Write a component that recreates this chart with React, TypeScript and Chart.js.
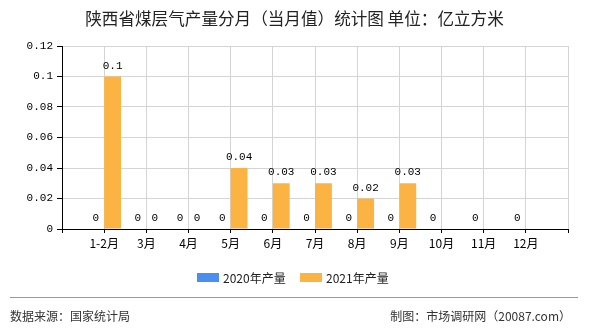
import React, { useEffect, useRef } from 'react';
import { Chart, registerables } from 'chart.js';

Chart.register(...registerables);

const TITLE = '陕西省煤层气产量分月（当月值）统计图 单位：亿立方米';
const MONTHS = ['1-2月', '3月', '4月', '5月', '6月', '7月', '8月', '9月', '10月', '11月', '12月'];
const VALUES_2020: (number | null)[] = [0, 0, 0, 0, 0, 0, 0, 0, 0, 0, 0];
const VALUES_2021: (number | null)[] = [0.1, 0, 0, 0.04, 0.03, 0.03, 0.02, 0.03, null, null, null];
const SERIES_NAMES = ['2020年产量', '2021年产量'];
const SERIES_COLORS = ['#4a8ff0', '#fbb344'];
const Y_MIN = 0;
const Y_MAX = 0.12;
const Y_STEP = 0.02;
const SOURCE_TEXT = '数据来源：国家统计局';
const CREDIT_TEXT = '制图：市场调研网（20087.com）';

const CJK = '"Noto Sans CJK SC", "Noto Sans", sans-serif';
const MONO = '"Liberation Mono", "DejaVu Sans Mono", monospace';

const W = 590;
const H = 330;

const pad = (arr: (number | null)[]) => [null, ...arr, null];

const decorPlugin = {
  id: 'decor',
  afterDatasetsDraw(chart: any) {
    const ctx = chart.ctx;
    ctx.save();
    ctx.font = '11px ' + MONO;
    ctx.fillStyle = '#000';
    ctx.textAlign = 'center';
    ctx.textBaseline = 'alphabetic';
    chart.data.datasets.forEach((ds: any, di: number) => {
      const meta = chart.getDatasetMeta(di);
      meta.data.forEach((el: any, i: number) => {
        const v = ds.data[i];
        if (v === null || v === undefined) return;
        ctx.fillText(String(v), el.x, el.y - 8);
      });
    });
    ctx.restore();
  },
  afterDraw(chart: any) {
    const ctx = chart.ctx;
    ctx.save();
    // title
    ctx.fillStyle = '#222';
    ctx.font = '16.6px ' + CJK;
    ctx.textAlign = 'center';
    ctx.textBaseline = 'middle';
    ctx.fillText(TITLE, 294.5, 19);

    // legend
    ctx.font = '12px ' + CJK;
    ctx.textAlign = 'left';
    const legendX = [197, 300];
    SERIES_NAMES.forEach((name, i) => {
      ctx.fillStyle = SERIES_COLORS[i];
      ctx.fillRect(legendX[i], 273, 22, 9);
      ctx.fillStyle = '#222';
      ctx.fillText(name, legendX[i] + 26, 278);
    });

    // footer line
    ctx.strokeStyle = '#999';
    ctx.lineWidth = 1;
    ctx.beginPath();
    ctx.moveTo(10, 297.5);
    ctx.lineTo(578, 297.5);
    ctx.stroke();

    ctx.fillStyle = '#333';
    ctx.font = '12px ' + CJK;
    ctx.textAlign = 'left';
    ctx.fillText(SOURCE_TEXT, 10, 316);
    ctx.textAlign = 'right';
    ctx.fillText(CREDIT_TEXT, 571, 316);
    ctx.restore();
  },
};

export default function App() {
  const ref = useRef<HTMLCanvasElement | null>(null);
  useEffect(() => {
    if (!ref.current) return;
    const chart = new Chart(ref.current, {
      type: 'bar',
      data: {
        labels: ['', ...MONTHS, ''],
        datasets: [
          {
            label: SERIES_NAMES[0],
            data: pad(VALUES_2020),
            backgroundColor: SERIES_COLORS[0],
            categoryPercentage: 0.8,
            barPercentage: 1,
            borderWidth: 0,
          },
          {
            label: SERIES_NAMES[1],
            data: pad(VALUES_2021),
            backgroundColor: SERIES_COLORS[1],
            categoryPercentage: 0.8,
            barPercentage: 1,
            borderWidth: 0,
          },
        ],
      },
      options: {
        responsive: false,
        animation: false,
        layout: { padding: { top: 46, left: 0, right: 22, bottom: 0 } },
        plugins: {
          legend: { display: false },
          title: { display: false },
          tooltip: { enabled: false },
        },
        scales: {
          x: {
            type: 'category',
            offset: false,
            grid: { offset: false, color: '#d4d4d4', tickColor: '#000', tickLength: 4, lineWidth: 1 },
            border: { color: '#000', width: 1 },
            ticks: {
              font: { size: 12, family: CJK },
              color: '#000',
              padding: 3,
              autoSkip: false,
              maxRotation: 0,
            },
            afterFit: (s: any) => {
              s.height = H - 229;
            },
          },
          y: {
            min: Y_MIN,
            max: Y_MAX,
            grid: { color: '#d4d4d4', tickColor: '#000', tickLength: 5 },
            border: { color: '#000', width: 1 },
            ticks: {
              stepSize: Y_STEP,
              font: { size: 11, family: MONO },
              color: '#000',
              padding: 4,
              callback: (v: any) => String(+Number(v).toFixed(2)),
            },
            afterFit: (s: any) => {
              s.width = 62;
            },
          },
        },
      },
      plugins: [decorPlugin],
    } as any);
    return () => chart.destroy();
  }, []);
  return (
    <div style={{ position: 'absolute', left: 0, top: 0, width: W, height: H, background: '#fff' }}>
      <canvas ref={ref} width={W} height={H} style={{ display: 'block', width: W, height: H }} />
    </div>
  );
}
